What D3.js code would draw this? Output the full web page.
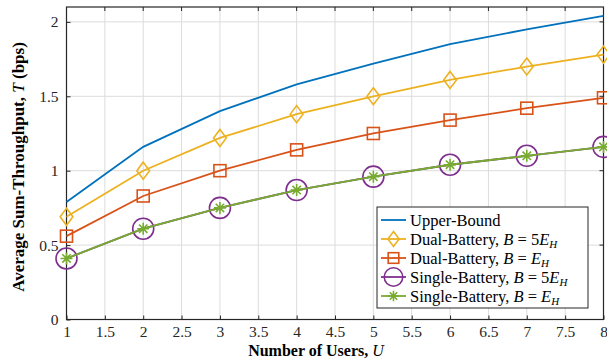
<!DOCTYPE html>
<html>
<head>
<meta charset="utf-8">
<script src="https://cdn.jsdelivr.net/npm/d3@7"></script>
<style>
body { margin: 0; background: #fff; }
text { font-family: "Liberation Serif", "DejaVu Serif", serif; }
</style>
</head>
<body>
<script>
var users = [1, 2, 3, 4, 5, 6, 7, 8];
var upperBound = [0.79, 1.16, 1.40, 1.58, 1.72, 1.85, 1.95, 2.04];
var dual5E = [0.69, 1.00, 1.22, 1.38, 1.50, 1.61, 1.70, 1.78];
var dualE = [0.56, 0.83, 1.00, 1.14, 1.25, 1.34, 1.42, 1.49];
var single5E = [0.41, 0.61, 0.75, 0.87, 0.96, 1.04, 1.10, 1.16];
var singleE = [0.41, 0.61, 0.75, 0.87, 0.96, 1.04, 1.10, 1.16];
var xTicks = [1, 1.5, 2, 2.5, 3, 3.5, 4, 4.5, 5, 5.5, 6, 6.5, 7, 7.5, 8];
var yTicks = [0, 0.5, 1, 1.5, 2];

var series = [
    {name: "Upper-Bound", math: null, vals: upperBound, color: "#0072BD", marker: "none"},
    {name: "Dual-Battery, ", math: "5", vals: dual5E, color: "#EDB120", marker: "diamond"},
    {name: "Dual-Battery, ", math: "", vals: dualE, color: "#D95319", marker: "square"},
    {name: "Single-Battery, ", math: "5", vals: single5E, color: "#7E2F8E", marker: "circle"},
    {name: "Single-Battery, ", math: "", vals: singleE, color: "#77AC30", marker: "star"}
];

var width = 607, height = 361;
var margin = {left: 66.5, right: 3.5, top: 7, bottom: 41.5};

var svg = d3.select("body").append("svg")
    .attr("width", width)
    .attr("height", height);

var x = d3.scaleLinear().domain([1, 8]).range([margin.left, width - margin.right]);
var y = d3.scaleLinear().domain([0, 2.1]).range([height - margin.bottom, margin.top]);

// grid
svg.append("g").selectAll("line").data(xTicks).enter().append("line")
    .attr("x1", function(d){ return x(d); }).attr("x2", function(d){ return x(d); })
    .attr("y1", y(0)).attr("y2", y(2.1))
    .attr("stroke", "#dcdcdc").attr("stroke-width", 1);
svg.append("g").selectAll("line").data(yTicks).enter().append("line")
    .attr("x1", x(1)).attr("x2", x(8))
    .attr("y1", function(d){ return y(d); }).attr("y2", function(d){ return y(d); })
    .attr("stroke", "#dcdcdc").attr("stroke-width", 1);

// axes
var xAxis = d3.axisBottom(x).tickValues(xTicks).tickSizeInner(-4).tickSizeOuter(0).tickPadding(6)
    .tickFormat(function(d){ return d; });
var yAxis = d3.axisLeft(y).tickValues(yTicks).tickSizeInner(-4).tickSizeOuter(0).tickPadding(8)
    .tickFormat(function(d){ return d; });

var gx = svg.append("g").attr("transform", "translate(0," + y(0) + ")").call(xAxis);
var gy = svg.append("g").attr("transform", "translate(" + x(1) + ",0)").call(yAxis);
[gx, gy].forEach(function(g){
    g.select(".domain").remove();
    g.selectAll("line").attr("stroke", "#262626");
    g.selectAll("text").attr("font-size", 15.5).attr("fill", "#262626")
        .attr("font-family", "Liberation Serif");
});
// top/right ticks
svg.append("g").selectAll("line").data(xTicks).enter().append("line")
    .attr("x1", function(d){ return x(d); }).attr("x2", function(d){ return x(d); })
    .attr("y1", y(2.1)).attr("y2", y(2.1) + 4).attr("stroke", "#262626");
svg.append("g").selectAll("line").data(yTicks).enter().append("line")
    .attr("x1", x(8)).attr("x2", x(8) - 4)
    .attr("y1", function(d){ return y(d); }).attr("y2", function(d){ return y(d); })
    .attr("stroke", "#262626");

svg.append("rect")
    .attr("x", x(1)).attr("y", y(2.1))
    .attr("width", x(8) - x(1)).attr("height", y(0) - y(2.1))
    .attr("fill", "none").attr("stroke", "#262626").attr("stroke-width", 1.2);

// lines
var line = d3.line()
    .x(function(d, i){ return x(users[i]); })
    .y(function(d){ return y(d); });

function drawMarker(g, type, color, size) {
    var k = size / 8.5;
    if (type === "diamond") {
        g.append("path").attr("d", "M0," + (-size) + "L" + (size * 0.75) + ",0L0," + size + "L" + (-size * 0.75) + ",0Z")
            .attr("fill", "none").attr("stroke", color).attr("stroke-width", 1.6);
    } else if (type === "square") {
        g.append("rect").attr("x", -6 * k).attr("y", -6 * k).attr("width", 12 * k).attr("height", 12 * k)
            .attr("fill", "none").attr("stroke", color).attr("stroke-width", 1.6);
    } else if (type === "circle") {
        g.append("circle").attr("r", 10.5 * k)
            .attr("fill", "none").attr("stroke", color).attr("stroke-width", 1.6);
    } else if (type === "star") {
        var s = 6 * k;
        g.append("path")
            .attr("d", "M0," + (-s) + "V" + s + "M" + (-s) + ",0H" + s +
                "M" + (-s * 0.7) + "," + (-s * 0.7) + "L" + (s * 0.7) + "," + (s * 0.7) +
                "M" + (-s * 0.7) + "," + (s * 0.7) + "L" + (s * 0.7) + "," + (-s * 0.7))
            .attr("stroke", color).attr("stroke-width", 1.6);
    }
}

series.forEach(function(s){
    svg.append("path").datum(s.vals)
        .attr("d", line)
        .attr("fill", "none")
        .attr("stroke", s.color)
        .attr("stroke-width", 1.8);
    if (s.marker !== "none") {
        s.vals.forEach(function(v, i){
            var g = svg.append("g").attr("transform", "translate(" + x(users[i]) + "," + y(v) + ")");
            drawMarker(g, s.marker, s.color, 8.5);
        });
    }
});

// legend
var lg = svg.append("g").attr("transform", "translate(377,207)");
lg.append("rect").attr("width", 211).attr("height", 101)
    .attr("fill", "#fff").attr("stroke", "#262626").attr("stroke-width", 1);
series.forEach(function(s, i){
    var row = lg.append("g").attr("transform", "translate(0," + (13 + i * 19) + ")");
    row.append("line").attr("x1", 4).attr("x2", 29).attr("stroke", s.color).attr("stroke-width", 1.8);
    if (s.marker !== "none") {
        var m = row.append("g").attr("transform", "translate(16.5,0)");
        drawMarker(m, s.marker, s.color, 7.5);
    }
    var t = row.append("text").attr("x", 33).attr("y", 5.5).attr("font-size", 16.5).attr("fill", "#000");
    t.append("tspan").text(s.name);
    if (s.math !== null) {
        t.append("tspan").attr("font-style", "italic").text("B");
        t.append("tspan").text(" = " + s.math);
        t.append("tspan").attr("font-style", "italic").text("E");
        t.append("tspan").attr("font-style", "italic").attr("font-size", 11).attr("dy", 3).text("H");
    }
});

// axis labels
var xl = svg.append("text").attr("x", 316).attr("y", 356)
    .attr("text-anchor", "middle").attr("font-size", 16).attr("font-weight", "bold");
xl.append("tspan").text("Number of Users, ");
xl.append("tspan").attr("font-style", "italic").attr("font-weight", "normal").text("U");

var yl = svg.append("text")
    .attr("transform", "translate(24,167) rotate(-90)")
    .attr("text-anchor", "middle").attr("font-size", 17).attr("font-weight", "bold");
yl.append("tspan").text("Average Sum-Throughput, ");
yl.append("tspan").attr("font-style", "italic").attr("font-weight", "normal").text("T");
yl.append("tspan").text(" (bps)");
</script>
</body>
</html>
